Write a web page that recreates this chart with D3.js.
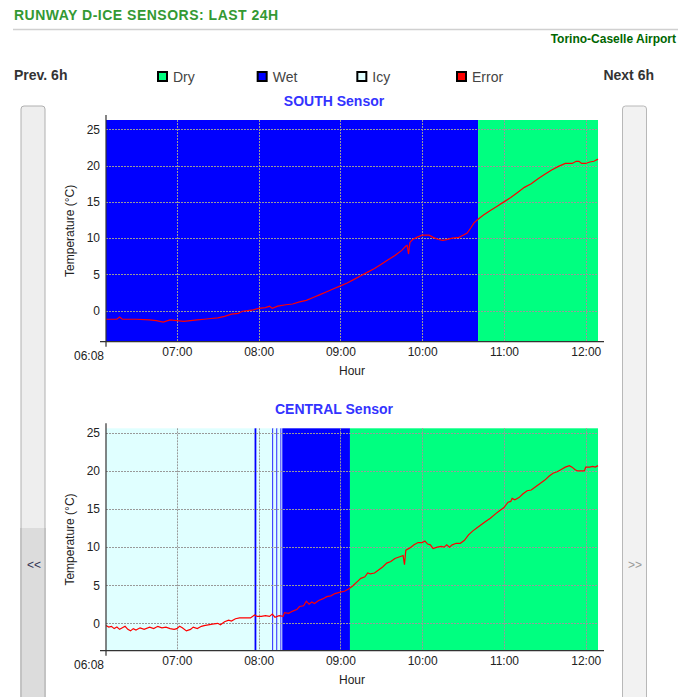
<!DOCTYPE html>
<html><head><meta charset="utf-8">
<script src="https://cdn.jsdelivr.net/npm/d3@7"></script>
<style>
body{margin:0;background:#fff}
svg{display:block}
text{font-family:Arial,"Liberation Sans",sans-serif}
</style>
</head><body><svg id="c" width="678" height="697"></svg>
<script>
// ---------- DATA ----------
const pageTitle = "RUNWAY D-ICE SENSORS: LAST 24H";
const airportName = "Torino-Caselle Airport";
const legendLabels = ["Dry", "Wet", "Icy", "Error"];
const legendColors = ["#00ff80", "#0000ff", "#e0ffff", "#ff0000"];
const hourTicks = ["07:00", "08:00", "09:00", "10:00", "11:00", "12:00"];
const tempTicks = [0, 5, 10, 15, 20, 25];
const timeStart = "06:08", timeEnd = "12:09";

// SOUTH sensor
const southTimes = ["06:08","06:12","06:16","06:18","06:20","06:30","06:40","06:45","06:50","06:55","07:00","07:05","07:10","07:15","07:20","07:25","07:30","07:35","07:40","07:45","07:48","07:52","07:56","08:00","08:05","08:08","08:10","08:14","08:20","08:25","08:30","08:35","08:40","08:45","08:50","08:55","09:00","09:05","09:10","09:15","09:20","09:25","09:30","09:35","09:40","09:45","09:48","09:49","09:50","09:51","09:53","09:56","10:00","10:05","10:08","10:12","10:15","10:18","10:22","10:27","10:30","10:33","10:36","10:38","10:41","10:45","10:50","10:55","11:00","11:05","11:10","11:15","11:20","11:25","11:30","11:35","11:40","11:45","11:50","11:53","11:55","11:57","12:00","12:03","12:06","12:09"];
const southTemps = [-1.2,-1.2,-1.2,-0.9,-1.2,-1.2,-1.3,-1.4,-1.6,-1.3,-1.4,-1.5,-1.4,-1.3,-1.2,-1.1,-1.0,-0.8,-0.5,-0.4,-0.1,0.0,0.1,0.3,0.4,0.6,0.3,0.6,0.8,0.9,1.2,1.4,1.8,2.2,2.6,3.0,3.4,3.8,4.3,4.8,5.3,5.8,6.4,7.0,7.6,8.3,8.9,9.0,7.8,9.4,9.8,10.1,10.4,10.4,10.1,9.8,9.7,9.8,10.0,10.1,10.4,10.7,11.5,12.1,12.6,13.2,13.8,14.4,15.0,15.6,16.3,17.0,17.5,18.2,18.8,19.4,19.9,20.3,20.3,20.6,20.6,20.3,20.3,20.5,20.6,20.9];
const southStateStart = ["06:08:00","10:41:00"];
const southStateEnd   = ["10:41:00","12:09:00"];
const southStates     = ["Wet","Dry"];

// CENTRAL sensor
const centralTimes = ["06:08","06:10","06:12","06:14","06:16","06:18","06:20","06:22","06:24","06:26","06:28","06:30","06:33","06:36","06:40","06:43","06:46","06:49","06:52","06:55","06:58","07:00","07:02","07:04","07:07","07:10","07:12","07:15","07:18","07:20","07:23","07:26","07:30","07:32","07:35","07:38","07:40","07:43","07:46","07:50","07:54","07:57","07:59","08:02","08:05","08:08","08:10","08:12","08:15","08:18","08:19","08:22","08:25","08:28","08:30","08:33","08:35","08:37","08:39","08:41","08:44","08:47","08:50","08:53","08:56","09:00","09:03","09:06","09:09","09:12","09:15","09:18","09:20","09:22","09:25","09:28","09:31","09:34","09:37","09:40","09:43","09:46","09:47","09:48","09:51","09:54","09:57","10:00","10:02","10:04","10:06","10:08","10:11","10:14","10:16","10:18","10:20","10:22","10:25","10:28","10:31","10:34","10:37","10:40","10:43","10:46","10:50","10:54","10:57","11:00","11:03","11:05","11:06","11:08","11:11","11:14","11:17","11:20","11:23","11:26","11:30","11:33","11:36","11:39","11:42","11:45","11:48","11:50","11:52","11:54","11:57","11:59","12:00","12:03","12:05","12:07","12:09"];
const centralTemps = [-0.3,-0.5,-0.4,-0.7,-0.5,-0.8,-0.6,-0.4,-0.8,-1.0,-0.7,-0.9,-0.6,-0.8,-0.5,-0.7,-0.4,-0.6,-0.5,-0.7,-0.8,-0.7,-0.4,-0.6,-1.0,-0.8,-0.5,-0.7,-0.4,-0.3,-0.2,-0.1,0.0,-0.2,0.2,0.4,0.3,0.6,0.7,0.7,0.7,1.1,0.9,0.9,1.0,0.9,1.2,0.8,1.0,0.9,1.4,1.3,1.6,1.8,2.2,2.3,2.9,2.5,2.8,2.6,3.0,3.2,3.5,3.6,3.9,4.1,4.2,4.5,4.9,5.4,5.9,6.1,6.6,6.5,6.6,7.0,7.4,7.9,8.1,8.5,8.7,8.9,7.7,9.6,9.9,10.3,10.6,10.6,10.8,10.4,10.3,9.8,10.0,10.1,10.0,10.3,10.0,10.3,10.5,10.5,10.9,11.6,12.1,12.5,12.9,13.3,13.8,14.4,14.8,15.2,15.9,16.0,16.4,16.2,16.5,17.0,17.4,17.5,17.9,18.3,18.8,19.3,19.7,19.9,20.2,20.5,20.7,20.5,20.2,20.0,20.0,20.0,20.5,20.5,20.6,20.5,20.7];
const centralStateStart = ["06:08:00","07:57:00","07:58:30","08:10:00","08:10:48","08:13:00","08:13:48","08:16:00","08:16:48","08:17:20","09:07:00"];
const centralStateEnd   = ["07:57:00","07:58:30","08:10:00","08:10:48","08:13:00","08:13:48","08:16:00","08:16:48","08:17:20","09:07:00","12:09:00"];
const centralStates     = ["Icy","Wet","Icy","Wet","Icy","Wet","Icy","Wet","Icy","Wet","Dry"];

// ---------- DRAW ----------
const pM = d3.timeParse("%H:%M"), pS = d3.timeParse("%H:%M:%S");
const T = s => s.length > 5 ? pS(s) : pM(s);
const stateColor = {};
legendLabels.forEach((l, i) => stateColor[l] = legendColors[i]);

const svg = d3.select("#c");

// header
svg.append("text").attr("x", 14).attr("y", 20).attr("font-size", 14).attr("font-weight", "bold")
  .attr("letter-spacing", 0.5).attr("fill", "#339933").text(pageTitle);
svg.append("line").attr("x1", 13).attr("x2", 678).attr("y1", 29.5).attr("y2", 29.5)
  .attr("stroke", "#d0d0d0").attr("stroke-width", 1.5);
svg.append("text").attr("x", 676).attr("y", 43).attr("text-anchor", "end").attr("font-size", 12)
  .attr("font-weight", "bold").attr("fill", "#006600").text(airportName);

svg.append("text").attr("x", 14).attr("y", 80).attr("font-size", 14).attr("font-weight", "bold")
  .attr("fill", "#333").text("Prev. 6h");
svg.append("text").attr("x", 654).attr("y", 80).attr("text-anchor", "end").attr("font-size", 14)
  .attr("font-weight", "bold").attr("fill", "#333").text("Next 6h");

// legend
const legX = d3.scalePoint().domain(legendLabels).range([157, 456]);
const leg = svg.selectAll("g.leg").data(legendLabels).join("g").attr("class", "leg")
  .attr("transform", d => `translate(${legX(d)},71)`);
leg.append("rect").attr("x", 1).attr("y", 1).attr("width", 9).attr("height", 9)
  .attr("fill", d => stateColor[d]).attr("stroke", "#000").attr("stroke-width", 2);
leg.append("text").attr("x", 16).attr("y", 10.5).attr("font-size", 14).attr("fill", "#444").text(d => d);

// side buttons
svg.append("rect").attr("x", 21).attr("y", 106).attr("width", 24).attr("height", 620).attr("rx", 3)
  .attr("fill", "#eeeeee").attr("stroke", "#b0b0b0");
svg.append("rect").attr("x", 21.5).attr("y", 528).attr("width", 23).attr("height", 200)
  .attr("fill", "#dcdcdc");
svg.append("line").attr("x1", 21).attr("x2", 21).attr("y1", 528).attr("y2", 697).attr("stroke", "#b0b0b0");
svg.append("line").attr("x1", 45).attr("x2", 45).attr("y1", 528).attr("y2", 697).attr("stroke", "#b0b0b0");
svg.append("text").attr("x", 34).attr("y", 569).attr("text-anchor", "middle").attr("font-size", 12)
  .attr("fill", "#333355").text("<<");
svg.append("rect").attr("x", 622.5).attr("y", 106).attr("width", 24).attr("height", 620).attr("rx", 3)
  .attr("fill", "#f2f2f2").attr("stroke", "#b8b8b8");
svg.append("text").attr("x", 635).attr("y", 569).attr("text-anchor", "middle").attr("font-size", 12)
  .attr("fill", "#999").text(">>");

function drawChart(cfg) {
  const g = svg.append("g");
  const x = d3.scaleTime().domain([T(timeStart), T(timeEnd)]).range([106, 598]);
  const y = d3.scaleLinear().domain(cfg.yDomain).range([cfg.bottom, cfg.top]);

  g.append("text").attr("x", 334).attr("y", cfg.top - 14).attr("text-anchor", "middle")
    .attr("font-size", 14).attr("font-weight", "bold").attr("fill", "#3333ff").text(cfg.title);

  const segs = cfg.states.map((s, i) => ({s: T(cfg.starts[i]), e: T(cfg.ends[i]), state: s}));
  g.selectAll("rect.st").data(segs).join("rect").attr("class", "st")
    .attr("x", d => x(d.s)).attr("width", d => x(d.e) - x(d.s))
    .attr("y", cfg.top).attr("height", cfg.bottom - cfg.top)
    .attr("fill", d => stateColor[d.state]);

  // grid
  g.selectAll("line.gy").data(tempTicks).join("line").attr("class", "gy")
    .attr("x1", 106).attr("x2", 598).attr("y1", d => Math.round(y(d)) + 0.5).attr("y2", d => Math.round(y(d)) + 0.5)
    .attr("stroke", "#999").attr("stroke-dasharray", "2,1");
  g.selectAll("line.gx").data(hourTicks).join("line").attr("class", "gx")
    .attr("x1", d => Math.round(x(T(d))) + 0.5).attr("x2", d => Math.round(x(T(d))) + 0.5)
    .attr("y1", cfg.top).attr("y2", cfg.bottom)
    .attr("stroke", "#999").attr("stroke-dasharray", "2,1");

  // temperature line
  const pts = cfg.times.map((t, i) => [T(t), cfg.temps[i]]);
  g.append("path").datum(pts)
    .attr("d", d3.line().x(d => x(d[0])).y(d => y(d[1])))
    .attr("fill", "none").attr("stroke", "#ff0000").attr("stroke-width", 1.2);

  // axes
  const ya = g.append("g").attr("transform", "translate(106,0)")
    .call(d3.axisLeft(y).tickValues(tempTicks).tickSize(0).tickPadding(6));
  ya.select(".domain").remove();
  ya.selectAll("text").attr("font-size", 12).attr("fill", "#222").attr("font-family", "Arial,'Liberation Sans',sans-serif");

  const xa = g.append("g").attr("transform", `translate(0,${cfg.bottom})`)
    .call(d3.axisBottom(x).tickValues(hourTicks.map(T)).tickFormat(d3.timeFormat("%H:%M")).tickSize(0).tickPadding(6));
  xa.select(".domain").remove();
  xa.selectAll("text").attr("font-size", 12).attr("fill", "#222").attr("font-family", "Arial,'Liberation Sans',sans-serif");

  g.append("text").attr("x", 104).attr("y", cfg.bottom + 18.5).attr("text-anchor", "end")
    .attr("font-size", 12).attr("fill", "#222").text(timeStart);

  g.append("line").attr("x1", 106).attr("x2", 106).attr("y1", cfg.top - 5).attr("y2", cfg.bottom + 5)
    .attr("stroke", "#333").attr("stroke-width", 1.2);
  g.append("line").attr("x1", 100).attr("x2", 604).attr("y1", cfg.bottom).attr("y2", cfg.bottom)
    .attr("stroke", "#333").attr("stroke-width", 1.2);

  g.append("text").attr("transform", `translate(74,${(cfg.top + cfg.bottom) / 2}) rotate(-90)`)
    .attr("text-anchor", "middle").attr("font-size", 12).attr("fill", "#222").text("Temperature (°C)");
  g.append("text").attr("x", 352).attr("y", cfg.bottom + 33.5).attr("text-anchor", "middle")
    .attr("font-size", 12).attr("fill", "#222").text("Hour");
}

drawChart({title: "SOUTH Sensor", top: 120, bottom: 341.7, yDomain: [-4.3, 26.3],
  times: southTimes, temps: southTemps, starts: southStateStart, ends: southStateEnd, states: southStates});
drawChart({title: "CENTRAL Sensor", top: 428.3, bottom: 650.7, yDomain: [-3.6, 25.6],
  times: centralTimes, temps: centralTemps, starts: centralStateStart, ends: centralStateEnd, states: centralStates});
</script></body></html>
